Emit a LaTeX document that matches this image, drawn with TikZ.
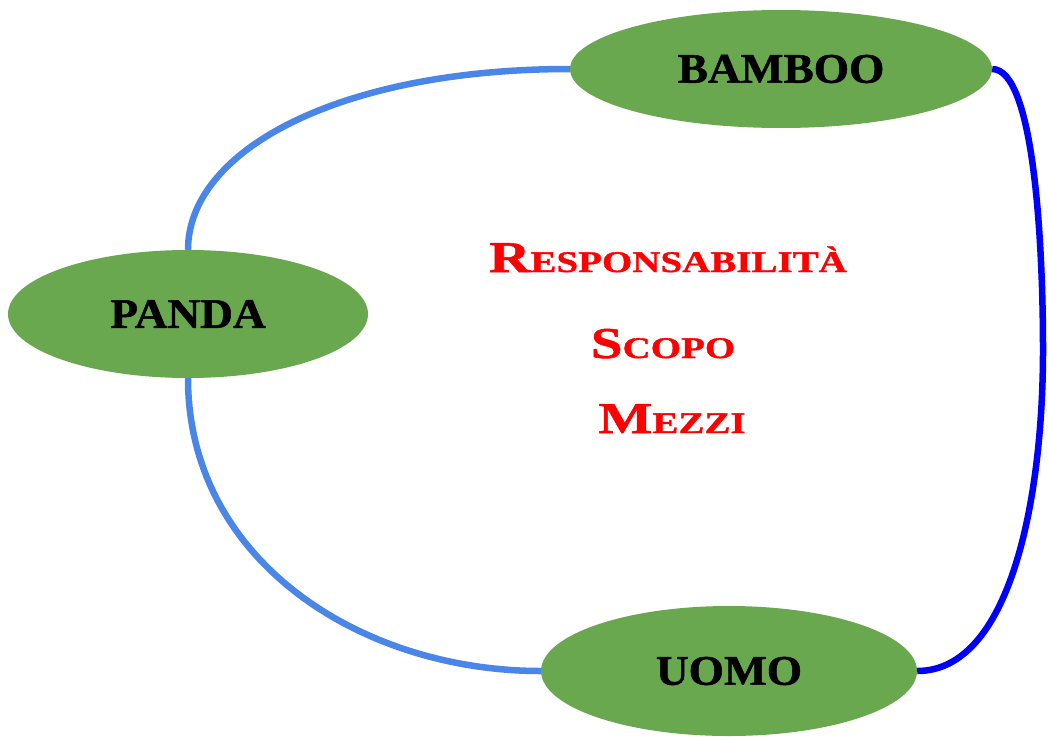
\documentclass[tikz,border=0pt]{standalone}
\usepackage{fontspec}
\usetikzlibrary{shapes.geometric}
\newfontfamily\labfont[FakeStretch=1.08,FakeBold=1.2]{Liberation Serif Bold}
\newfontfamily\redfont[FakeStretch=1.3,FakeBold=1.2]{Liberation Serif Bold}
\definecolor{leaf}{HTML}{6AA84F}
\definecolor{lightblue}{HTML}{4A86E8}
\definecolor{deepblue}{HTML}{0000FF}
\newcommand{\fsc}[2]{{\fontsize{44}{44}\selectfont #1}{\fontsize{30}{30}\selectfont #2}}
\begin{document}
\begin{tikzpicture}[x=1pt,y=-1pt,
  blob/.style={ellipse, fill=leaf, draw=none, inner sep=0pt,
    font=\labfont\fontsize{42}{42}\selectfont, text=black},
  link/.style={line width=6.5pt},
  redtext/.style={anchor=base, text=red, font=\redfont, inner sep=0pt}]
\useasboundingbox (0,0) rectangle (1048,736);
\node[blob, minimum width=422pt, minimum height=118pt] (bamboo) at (781,69) {BAMBOO};
\node[blob, minimum width=360pt, minimum height=128pt] (panda) at (188,314) {PANDA};
\node[blob, minimum width=376pt, minimum height=130pt] (uomo) at (729,671) {UOMO};
\begin{scope}
\clip (0,0) rectangle (1048,736);
\draw[link, lightblue] (bamboo.west) .. controls (340,69) and (188,150) .. (panda.north);
\draw[link, lightblue] (panda.south) .. controls (188,560) and (360,671) .. (uomo.west);
\coordinate (mid) at (1043,350);
\draw[link, deepblue] (bamboo.east) .. controls (1035,69) and (1043,250) .. (mid)
  .. controls (1043,500) and (1010,671) .. (uomo.east);
\end{scope}
\node[redtext] (resp) at (668,272) {\fsc{R}{ESPONSABILITÀ}};
\node[redtext] (scopo) at (663,358) {\fsc{S}{COPO}};
\node[redtext] (mezzi) at (672,433) {\fsc{M}{EZZI}};
\end{tikzpicture}
\end{document}
